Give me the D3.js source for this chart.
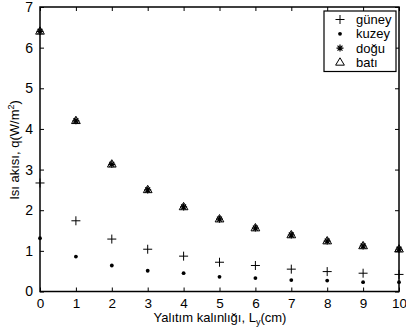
<!DOCTYPE html>
<html>
<head>
<meta charset="utf-8">
<script src="https://cdn.jsdelivr.net/npm/d3@7"></script>
<style>
  html, body { margin: 0; padding: 0; background: #fff; }
  svg { display: block; font-family: "Liberation Sans", Arial, sans-serif; }
</style>
</head>
<body>
<svg id="chart" width="406" height="331"></svg>
<script>
// Insulation thickness (cm)
const thickness = [0, 1, 2, 3, 4, 5, 6, 7, 8, 9, 10];
// Heat flux per facade orientation (W/m²)
const guney = [2.67, 1.74, 1.29, 1.04, 0.87, 0.72, 0.64, 0.55, 0.49, 0.45, 0.42];
const kuzey = [1.31, 0.86, 0.64, 0.51, 0.45, 0.36, 0.33, 0.28, 0.27, 0.23, 0.23];
const dogu  = [6.40, 4.20, 3.13, 2.50, 2.08, 1.78, 1.56, 1.39, 1.24, 1.12, 1.04];
const bati  = [6.40, 4.20, 3.13, 2.50, 2.08, 1.78, 1.56, 1.39, 1.24, 1.12, 1.04];
const xTicks = [0, 1, 2, 3, 4, 5, 6, 7, 8, 9, 10];
const yTicks = [0, 1, 2, 3, 4, 5, 6, 7];
const seriesNames = ["güney", "kuzey", "doğu", "batı"];

const svg = d3.select("#chart");
const pL = 40, pR = 399, pT = 7, pB = 291.5;

const x = d3.scaleLinear().domain([0, 10]).range([pL, pR]);
const y = d3.scaleLinear().domain([0, 7]).range([pB, pT]);

// marker drawers
function plus(g, cx, cy) {
  g.append("path").attr("d", `M${cx-4.5},${cy}H${cx+4.5}M${cx},${cy-4.5}V${cy+4.5}`)
    .attr("stroke", "#000").attr("stroke-width", 1).attr("fill", "none");
}
function dot(g, cx, cy) {
  g.append("circle").attr("cx", cx).attr("cy", cy).attr("r", 1.9).attr("fill", "#000");
}
function star(g, cx, cy) {
  const r = 3.5;
  let d = "";
  for (let k = 0; k < 4; k++) {
    const a = k * Math.PI / 4;
    d += `M${cx - r*Math.cos(a)},${cy - r*Math.sin(a)}L${cx + r*Math.cos(a)},${cy + r*Math.sin(a)}`;
  }
  g.append("path").attr("d", d).attr("stroke", "#000").attr("stroke-width", 1.2).attr("fill", "none");
}
function tri(g, cx, cy) {
  const r = 4.6;
  g.append("path")
    .attr("d", `M${cx},${cy - r}L${cx + r*0.95},${cy + r*0.6}L${cx - r*0.95},${cy + r*0.6}Z`)
    .attr("stroke", "#000").attr("stroke-width", 1).attr("fill", "none");
}
const drawers = [plus, dot, star, tri];
const series = [guney, kuzey, dogu, bati];

// axes frame with inward ticks
const axisG = svg.append("g");
const tickLen = 4;
const fmt = d3.format("d");
const xAxB = d3.axisBottom(x).tickValues(xTicks).tickFormat(fmt).tickSizeInner(-tickLen).tickSizeOuter(0).tickPadding(7);
const xAxT = d3.axisTop(x).tickValues(xTicks).tickSizeInner(-tickLen).tickSizeOuter(0).tickFormat("");
const yAxL = d3.axisLeft(y).tickValues(yTicks).tickFormat(fmt).tickSizeInner(-tickLen).tickSizeOuter(0).tickPadding(7);
const yAxR = d3.axisRight(y).tickValues(yTicks).tickSizeInner(-tickLen).tickSizeOuter(0).tickFormat("");

function styleAxis(g, fs) {
  g.select(".domain").remove();
  g.selectAll("line").attr("stroke", "#000").attr("stroke-width", 1);
  g.selectAll("text").attr("font-size", fs).attr("fill", "#000")
    .attr("font-family", "Liberation Sans, Arial, sans-serif");
}
styleAxis(axisG.append("g").attr("transform", `translate(0,${pB})`).call(xAxB), 13.5);
styleAxis(axisG.append("g").attr("transform", `translate(0,${pT})`).call(xAxT), 13.5);
styleAxis(axisG.append("g").attr("transform", `translate(${pL},0)`).call(yAxL), 14);
styleAxis(axisG.append("g").attr("transform", `translate(${pR},0)`).call(yAxR), 14);

// plot data
const plotG = svg.append("g");
series.forEach((vals, si) => {
  vals.forEach((v, i) => drawers[si](plotG, x(thickness[i]), y(v)));
});

// box
svg.append("rect").attr("x", pL).attr("y", pT)
  .attr("width", pR - pL).attr("height", pB - pT)
  .attr("fill", "none").attr("stroke", "#000").attr("stroke-width", 1.5);

// legend
const lg = svg.append("g");
lg.append("rect").attr("x", 324).attr("y", 11).attr("width", 72).attr("height", 60.5)
  .attr("fill", "#fff").attr("stroke", "#000").attr("stroke-width", 1.2);
seriesNames.forEach((name, i) => {
  const cy = 19.5 + i * 14.3;
  drawers[i](lg, 340, cy);
  lg.append("text").attr("x", 356).attr("y", cy + 4.5).attr("font-size", 13)
    .attr("fill", "#000").text(name);
});

// axis titles
const xl = svg.append("text").attr("x", 220).attr("y", 322).attr("text-anchor", "middle")
  .attr("font-size", 13).attr("fill", "#000");
xl.append("tspan").text("Yalıtım kalınlığı, L");
xl.append("tspan").attr("font-size", 9).attr("dy", 3).text("y");
xl.append("tspan").attr("dy", -3).text("(cm)");

const yl = svg.append("text").attr("transform", "translate(19,150) rotate(-90)")
  .attr("text-anchor", "middle").attr("font-size", 13).attr("fill", "#000");
yl.append("tspan").text("Isı akısı, q(W/m");
yl.append("tspan").attr("font-size", 9).attr("dy", -5).text("2");
yl.append("tspan").attr("dy", 5).text(")");
</script>
</body>
</html>
